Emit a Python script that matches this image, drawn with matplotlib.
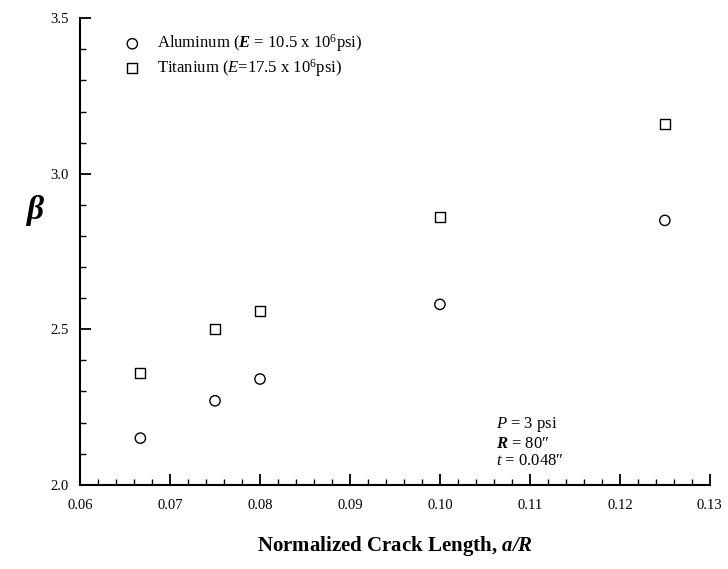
import matplotlib.pyplot as plt

plt.rcParams['font.family'] = ['Liberation Serif', 'DejaVu Serif']
plt.rcParams['mathtext.fontset'] = 'custom'
plt.rcParams['mathtext.rm'] = 'Liberation Serif'
plt.rcParams['mathtext.it'] = 'Liberation Serif:italic'
plt.rcParams['mathtext.bf'] = 'Liberation Serif:bold'
plt.rcParams['mathtext.bfit'] = 'Liberation Serif:bold:italic'

crack_length = [0.0667, 0.075, 0.08, 0.10, 0.125]
beta_aluminum = [2.15, 2.27, 2.34, 2.58, 2.85]
beta_titanium = [2.36, 2.50, 2.56, 2.86, 3.16]

x_ticks = [0.06, 0.07, 0.08, 0.09, 0.10, 0.11, 0.12, 0.13]
x_ticklabels = ['0.06', '0.07', '0.08', '0.09', '0.10', '0.11', '0.12', '0.13']
x_minor = [0.06 + 0.002 * i for i in range(36)]
y_ticks = [2.0, 2.5, 3.0, 3.5]
y_ticklabels = ['2.0', '2.5', '3.0', '3.5']
y_minor = [2.0 + 0.1 * i for i in range(16)]

label_al = r'Aluminum ($\mathbfit{E}$ = 10.5 x 10$^6$psi)'
label_ti = r'Titanium ($\mathit{E}$=17.5 x 10$^6$psi)'

fig = plt.figure(figsize=(7.28, 5.69), dpi=100)
ax = fig.add_axes([0.110, 0.148, 0.865, 0.820])

ax.scatter(crack_length, beta_aluminum, marker='o', s=55, facecolors='none',
           edgecolors='black', linewidths=1.0, label=label_al)
ax.scatter(crack_length, beta_titanium, marker='s', s=50, facecolors='none',
           edgecolors='black', linewidths=1.0, label=label_ti)

ax.set_xlim(0.06, 0.13)
ax.set_ylim(2.0, 3.5)
ax.set_xticks(x_ticks)
ax.set_xticklabels(x_ticklabels)
ax.set_xticks(x_minor, minor=True)
ax.set_yticks(y_ticks)
ax.set_yticklabels(y_ticklabels)
ax.set_yticks(y_minor, minor=True)

ax.spines['top'].set_visible(False)
ax.spines['right'].set_visible(False)
ax.spines['left'].set_linewidth(1.5)
ax.spines['bottom'].set_linewidth(1.5)
ax.tick_params(which='major', direction='in', length=8, width=1.3, labelsize=10.5)
ax.tick_params(axis='x', which='major', pad=10)
ax.tick_params(axis='y', which='major', pad=8)
ax.tick_params(which='minor', direction='in', length=4, width=1.0)

ax.set_xlabel(r'Normalized Crack Length, $\mathbfit{a/R}$', fontsize=15,
              fontweight='bold', labelpad=16)
ax.set_ylabel(r'$\mathbfit{\beta}$', fontsize=24, rotation=0)
ax.yaxis.set_label_coords(-0.072, 0.55)

ax.legend(loc='upper left', frameon=False, fontsize=12, handletextpad=0.5,
          borderaxespad=0.6, labelspacing=0.15, bbox_to_anchor=(0.03, 1.005))

ax.text(0.66, 0.15, r'$\mathit{P}$ = 3 psi' + '\n' + r'$\mathbfit{R}$ = 80″' + '\n' + r'$\mathit{t}$ = 0.048″',
        transform=ax.transAxes, fontsize=12, va='top', ha='left', linespacing=1.15)

fig.savefig('out.png', dpi=100)
